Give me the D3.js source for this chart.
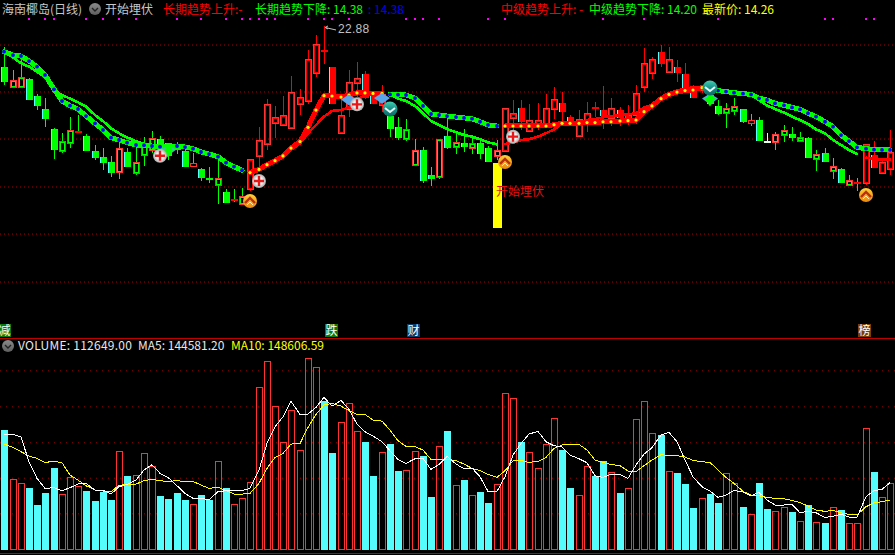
<!DOCTYPE html>
<html><head><meta charset="utf-8">
<script src="https://cdn.jsdelivr.net/npm/d3@7/dist/d3.min.js"></script>
<style>
html,body{margin:0;padding:0;background:#000;overflow:hidden}
svg{display:block}
text{font-family:"Liberation Sans","Noto Sans CJK SC",sans-serif;font-size:12px}
.cjk{font-family:"Noto Sans CJK SC","Liberation Sans",sans-serif}
</style></head><body><svg id="c" width="895" height="555"></svg>
<script>
// ---- price data ----
const highs=[21.42,19.87,20.89,19.30,18.23,17.93,15.88,15.54,16.63,16.79,15.47,14.74,14.51,13.99,15.19,14.51,14.62,15.26,15.70,15.35,14.85,14.92,14.74,14.17,13.14,13.23,13.71,11.71,11.73,11.77,13.76,15.97,17.89,17.41,18.09,19.46,18.55,21.24,22.26,22.88,20.10,18.09,19.87,20.42,19.80,18.27,18.84,17.59,16.68,16.52,15.15,14.60,13.23,15.15,16.63,15.54,15.81,15.19,15.08,14.69,15.08,17.25,17.82,17.82,17.52,17.59,18.23,18.68,18.36,16.77,17.13,17.68,17.68,18.77,17.93,17.31,17.47,18.84,21.35,20.78,21.58,21.47,20.55,20.33,18.84,18.84,18.68,17.82,17.59,17.93,17.22,16.84,16.63,15.54,15.65,16.08,15.97,15.65,15.26,14.40,14.51,13.85,13.14,12.69,12.48,14.78,15.01,13.71,15.76];
const bodyTops=[20.05,19.19,19.37,19.25,18.09,17.20,15.83,14.99,15.74,15.70,15.35,14.33,13.92,13.58,14.51,14.26,13.55,14.85,15.19,15.15,14.85,14.51,14.35,13.49,13.10,12.48,12.46,11.52,11.02,11.23,13.76,15.06,17.52,16.63,16.77,18.34,18.00,20.60,21.62,21.21,20.05,16.79,19.03,19.30,19.60,18.23,18.23,16.72,15.97,15.81,14.37,14.40,12.69,15.13,15.35,14.92,14.85,14.85,14.85,14.51,14.37,17.25,16.91,17.27,16.43,16.43,17.25,17.86,17.61,16.63,16.52,16.91,17.31,17.13,17.25,17.13,16.79,18.27,20.33,20.60,21.10,20.60,20.05,19.60,18.68,18.77,18.16,17.41,17.25,17.38,17.18,16.45,16.45,14.99,15.47,15.74,15.47,15.26,15.22,14.10,14.19,13.28,13.07,12.32,12.19,14.78,14.06,13.55,14.28];
const bodyBottoms=[19.14,18.73,18.73,17.91,17.47,16.56,14.44,14.35,14.90,15.58,14.37,13.89,13.60,12.87,12.92,13.32,12.85,14.08,14.40,14.62,14.06,14.46,13.32,13.32,12.57,12.44,12.03,10.86,10.93,10.73,11.75,14.01,14.83,16.27,16.13,15.92,17.54,17.77,19.69,21.08,17.59,15.54,17.18,19.00,18.05,17.59,17.47,15.92,15.31,15.17,13.39,12.37,12.51,12.57,14.58,14.60,14.69,14.56,14.17,13.64,14.01,14.35,16.61,16.38,15.72,15.99,16.08,17.22,17.07,16.22,15.38,16.45,17.20,16.79,16.61,16.63,16.56,16.79,18.73,19.69,20.37,19.76,19.76,18.73,18.05,18.50,17.59,16.95,16.95,17.09,16.38,16.27,15.06,14.92,14.97,15.45,15.26,15.04,13.92,13.80,13.67,12.98,12.19,12.03,12.05,12.16,13.26,12.85,13.10];
const lows=[18.84,18.68,18.68,17.86,17.13,15.99,13.80,14.21,14.53,15.58,14.35,13.71,13.03,12.53,12.44,13.30,12.69,13.30,14.21,14.44,13.71,14.12,13.26,13.32,12.25,12.12,10.70,10.79,10.86,10.70,11.57,12.98,14.40,15.22,16.13,15.92,16.79,17.54,19.41,20.28,17.54,15.49,16.68,18.05,17.91,17.54,17.02,15.31,15.08,15.01,13.39,12.16,11.93,12.41,14.49,14.12,14.26,14.12,13.76,13.55,13.71,14.26,15.65,15.76,15.70,15.76,15.95,16.50,16.27,16.18,15.26,15.65,16.68,15.81,16.04,16.04,16.11,16.18,18.39,19.23,20.10,19.64,19.07,18.46,18.05,18.27,17.47,16.79,15.92,16.79,16.22,16.06,15.01,14.85,14.40,14.94,15.01,14.99,13.87,12.96,13.58,12.41,12.12,12.00,11.59,11.98,13.21,12.76,12.69];
const upDays=[0,1,1,0,0,0,0,1,1,1,0,0,0,0,1,0,1,1,1,0,0,0,0,1,0,0,1,0,1,1,1,1,1,1,1,1,1,1,1,0,0,1,1,1,0,0,1,0,0,1,1,0,0,1,0,1,0,1,0,0,1,1,1,0,1,1,1,1,0,0,1,1,0,0,1,0,1,1,1,1,0,1,0,0,0,1,0,0,1,1,0,1,0,0,1,1,0,1,0,1,0,1,0,1,1,1,0,1,1];
const thickLine=[21.12,20.89,20.83,20.48,20.10,19.53,18.55,17.75,17.43,17.20,16.72,16.22,15.77,15.24,15.08,14.90,14.74,14.72,14.67,14.62,14.62,14.67,14.60,14.49,14.26,14.12,13.94,13.53,13.26,13.01,12.85,13.07,13.39,13.67,13.99,14.53,14.97,15.95,17.13,18.11,18.09,18.02,18.16,18.30,18.30,18.27,18.27,18.20,18.18,18.16,17.95,17.41,16.86,16.79,16.72,16.65,16.59,16.54,16.33,16.11,16.04,16.04,16.04,16.04,16.04,16.04,16.04,16.13,16.22,16.22,16.22,16.27,16.27,16.33,16.33,16.38,16.40,16.45,17.02,17.41,17.91,18.20,18.36,18.46,18.50,18.66,18.68,18.46,18.39,18.32,18.25,18.20,17.93,17.82,17.59,17.45,17.31,17.18,16.91,16.68,16.33,15.99,15.42,15.01,14.58,14.49,14.42,14.40,14.40];
const thinLine=[21.12,20.74,20.33,20.10,19.76,19.37,18.50,18.16,17.91,17.66,17.36,16.79,16.38,15.88,15.54,15.26,14.99,14.81,14.72,14.62,14.62,14.67,14.60,14.49,14.26,14.12,13.94,13.53,13.26,12.96,12.85,13.14,13.37,13.62,13.94,14.40,14.85,15.54,16.11,16.68,17.07,17.13,17.31,17.82,18.16,18.20,18.25,18.20,17.91,17.75,17.41,16.91,16.38,16.11,15.83,15.61,15.42,15.31,15.13,14.92,14.78,14.81,14.90,15.08,15.13,15.31,15.54,15.81,16.18,16.27,16.22,16.45,16.52,16.63,16.72,16.79,16.84,16.91,17.31,17.47,17.93,18.23,18.46,18.59,18.68,18.73,18.68,18.46,18.39,18.32,18.25,18.16,17.82,17.44,17.20,16.95,16.68,16.45,16.18,15.81,15.54,15.08,14.74,14.40,14.12,13.87,13.80,13.74,13.74];
// bar ranges [first,last] of each trend phase
const candleRedZones=[[30,46],[61,85],[105,108]];
const thickGreenZones=[[0,29],[47,60],[86,108]];
const thickRedZones=[[30,46],[61,85]];
const thinGreenZones=[[0,29],[47,60],[86,104]];
const thinRedZones=[[30,46],[61,85],[105,108]];
// markers
const plusDays=[19,31,43,62], plusPrices=[14.0,12.28,17.52,15.31];
const goldDays=[30,61,105], goldPrices=[10.91,13.58,11.32];
const tealDays=[47,86], tealPrices=[17.20,18.64];
const diamondDays=[20,42,46,86], diamondPrices=[14.42,17.85,17.95,17.92];
const arrowDays=[20,86], arrowPrices=[14.42,17.92];
const signalDays=[3,5,6,10,12,14,16,21,24,27,29,30,31,32,33,37,39,40,42,49,50,51,53,59,61,73,78,87,100,101,105,106];
const yellowBarDay=60, yellowBarTop=13.51, yellowBarBottom=9.06;
const priceGrid=[21.61,18.40,15.18,11.90,8.68,5.40];
// ---- volume data, thousands ----
const volumes=[203.0,119.3,112.5,104.6,75.8,96.1,138.5,93.8,122.7,107.4,99.5,82.5,97.8,84.2,166.8,124.9,126.6,163.4,141.3,91.0,85.9,96.1,84.2,76.9,92.7,84.2,149.8,104.6,76.9,87.1,114.2,275.3,319.4,243.1,182.0,236.3,168.5,324.5,309.2,251.6,163.9,215.9,248.2,200.7,182.6,124.9,165.1,179.2,133.4,134.5,166.8,158.9,89.3,175.2,201.2,109.1,118.1,92.1,97.8,79.1,110.8,265.1,256.6,182.6,165.1,137.9,178.6,222.7,169.0,104.6,92.1,141.3,124.9,150.4,131.1,96.1,104.0,221.0,251.6,197.3,194.5,132.8,130.0,111.4,70.7,87.1,94.4,79.1,129.5,112.5,72.4,59.9,113.1,69.0,65.0,71.8,63.9,48.1,75.8,46.4,45.2,71.8,67.3,44.7,44.7,205.8,131.7,88.8,112.649];
const ma5=[195.6,195.6,191.1,149.2,121.0,104.0,105.1,100.1,105.1,111.4,112.5,101.2,101.2,94.4,106.8,110.8,118.1,135.1,144.2,129.5,122.7,108.5,95.5,87.1,87.1,84.8,98.4,100.1,100.6,100.6,104.0,135.1,180.3,208.6,225.6,251.6,229.5,230.1,241.4,258.3,243.6,253.3,238.0,213.1,200.1,192.8,183.2,167.9,153.2,146.4,154.3,154.9,136.2,144.7,158.3,145.3,137.4,138.5,123.8,98.9,98.9,123.8,160.5,180.3,196.2,200.7,183.2,176.4,174.7,160.5,154.3,147.5,125.5,122.7,127.8,127.2,121.0,143.6,162.2,173.0,194.5,199.0,183.2,152.1,123.8,106.8,99.5,88.8,92.7,100.6,97.8,91.6,97.2,84.2,75.8,75.8,76.9,62.7,65.0,62.7,54.8,56.5,60.5,55.4,54.8,89.9,100.1,102.3,113.6];
const ma10=[179.2,173.5,166.2,158.9,154.9,148.1,149.8,147.5,126.6,118.1,108.5,101.2,99.5,98.4,109.1,110.8,111.4,117.0,119.3,117.0,115.9,117.0,115.9,115.9,109.7,104.0,105.7,100.6,94.4,94.4,95.5,112.5,137.9,156.6,163.4,179.2,180.3,207.5,229.5,245.3,248.2,243.6,235.7,229.5,229.5,219.9,218.2,202.9,184.9,175.2,174.7,169.0,153.2,152.1,153.8,150.9,145.3,137.9,134.5,127.8,122.7,134.0,150.9,151.5,148.1,149.8,156.6,171.9,177.5,179.2,178.6,169.0,152.1,148.1,144.7,142.5,133.4,132.3,142.5,152.1,161.1,160.0,159.4,157.2,151.5,149.2,148.1,135.1,122.7,112.5,98.9,92.7,91.6,88.8,87.1,86.5,83.7,79.7,74.1,67.3,65.0,66.7,62.7,59.9,58.8,72.9,79.7,81.4,84.2];
const volumeGrid=[304.3,243.2,182.2,122.1,61.7];
// ---- text ----
const titleName="海南椰岛(日线)", formulaName="开始埋伏";
const headerTexts=["长期趋势上升:-","长期趋势下降: 14.38",": 14.38","中级趋势上升: -","中级趋势下降: 14.20","最新价: 14.26"];
const volumeTexts=["VOLUME: 112649.00","MA5: 144581.20","MA10: 148606.59"];
const tagLabels=["减","跌","财","榜"], tagDays=[0,40,50,105];

const RED="#ff0000",RED2="#ff3232",GREEN="#00ff00",CYAN="#54fcfc";
const svg=d3.select("#c");
svg.append("rect").attr("width",895).attr("height",555).attr("fill","#000");
const defs=svg.append("defs");
function grad(id,stops,r){const g=r?defs.append("radialGradient").attr("id",id):defs.append("linearGradient").attr("id",id).attr("x2",0).attr("y2",1);
 stops.forEach((c,i)=>g.append("stop").attr("offset",i/(stops.length-1)).attr("stop-color",c));}
grad("gPlus",["#ffffff","#f4f4f4","#a8a8a8"],true);
grad("gGold",["#ffd23c","#f8a820","#e88a10"]);
grad("gTeal",["#40d0b0","#189088","#0c6a68"]);
grad("gGray",["#8a8a8a","#5e5e5e"]);

const xScale=d3.scaleLinear().domain([0,108]).range([4.33,890.3]);
const cx=i=>Math.round(xScale(i));
const yP=d3.scaleLinear().domain([24.657,14.26]).range([0,152]);
const yV=d3.scaleLinear().domain([0,352]).range([549.7,342.2]);
const days=d3.range(highs.length);
const inZones=(i,z)=>z.some(([a,b])=>i>=a&&i<=b);

// grid via axes
const gridG=svg.append("g");
function grid(scale,vals,dash,color){
 const g=gridG.append("g").call(d3.axisRight(scale).tickValues(vals).tickSize(895).tickFormat(""));
 g.select(".domain").remove();
 g.selectAll("line").attr("stroke",color).attr("stroke-dasharray",dash);
}
grid(yP,priceGrid,"1 3","#b00000");
grid(yV,volumeGrid,"1 5","#a00000");

// panel rules
gridG.append("line").attr("x1",0).attr("x2",895).attr("y1",338.5).attr("y2",338.5).attr("stroke","#c00000");
gridG.append("line").attr("x1",0).attr("x2",895).attr("y1",553.5).attr("y2",553.5).attr("stroke","#c00000");

// candles
const cG=svg.append("g").attr("shape-rendering","crispEdges");
days.forEach(i=>{
 const red=inZones(i,candleRedZones), up=upDays[i]===1;
 const x=cx(i), t=Math.round(yP(bodyTops[i])), b=Math.max(t+1,Math.round(yP(bodyBottoms[i])));
 const h=Math.round(yP(highs[i])), l=Math.round(yP(lows[i]));
 const wick=red?RED:GREEN;
 cG.append("rect").attr("x",x).attr("y",h).attr("width",1).attr("height",Math.max(0,t-h)).attr("fill",wick);
 cG.append("rect").attr("x",x).attr("y",b).attr("width",1).attr("height",Math.max(0,l-b)).attr("fill",wick);
 if(b-t<=2){
  cG.append("rect").attr("x",x-3).attr("y",t).attr("width",7).attr("height",2).attr("fill",i===93?"#e0ffe0":(red||up?RED:GREEN));
  if(i===21||i===25||i===93) cG.append("rect").attr("x",x).attr("y",h).attr("width",1).attr("height",l-h).attr("fill",i===93?"#e0ffe0":GREEN);
  return;
 }
 if(up){
  cG.append("rect").attr("x",x-3+.5).attr("y",t+.5).attr("width",6).attr("height",b-t).attr("fill","none").attr("stroke",RED2);
  if(red) cG.append("rect").attr("x",x-2+.5).attr("y",t+1.5).attr("width",4).attr("height",Math.max(0,b-t-2)).attr("fill","none").attr("stroke",RED);
  else if(b-t>3) cG.append("rect").attr("x",x-2+.5).attr("y",t+1.5).attr("width",4).attr("height",b-t-2).attr("fill","none").attr("stroke",GREEN);
 }else{
  cG.append("rect").attr("x",x-3).attr("y",t).attr("width",7).attr("height",b-t+1).attr("fill",CYAN);
  cG.append("rect").attr("x",x-2).attr("y",t).attr("width",6).attr("height",b-t+1).attr("fill",red?RED:GREEN);
 }
});

// trend lines
const lineP=vals=>d3.line().x(i=>cx(i)).y(i=>yP(vals[i]));
const lG=svg.append("g").attr("fill","none").attr("stroke-linejoin","round").attr("stroke-linecap","round").attr("shape-rendering","crispEdges");
function segs(vals,zones,color,w){zones.forEach(([a,b])=>lG.append("path").attr("d",lineP(vals)(d3.range(a,b+1))).attr("stroke",color).attr("stroke-width",w));}
segs(thinLine,thinGreenZones,GREEN,2.6);
segs(thinLine,thinRedZones,RED,2.6);
segs(thickLine,thickGreenZones,GREEN,5);
segs(thickLine,thickRedZones,RED,5);
const dG=svg.append("g");
function dots(zones,color,r){zones.forEach(([a,b])=>d3.range(a,b+1).forEach(i=>dG.append("circle").attr("cx",cx(i)).attr("cy",yP(thickLine[i])).attr("r",r).attr("fill",color)));}
dots(thickGreenZones,"#0000ff",1.9);
dots(thickRedZones,"#ffff00",1.6);

// yellow bar
svg.append("rect").attr("x",cx(yellowBarDay)-4).attr("width",9).attr("y",yP(yellowBarTop)).attr("height",yP(yellowBarBottom)-yP(yellowBarTop)).attr("fill","#ffff00").attr("shape-rendering","crispEdges");
svg.append("text").attr("class","cjk").attr("x",496).attr("y",196).attr("fill","#e81010").text(formulaName);

// markers
const mG=svg.append("g");
diamondDays.forEach((d,k)=>{const x=cx(d),y=yP(diamondPrices[k]);
 mG.append("path").attr("d",`M${x-8},${y}L${x},${y-5}L${x+8},${y}L${x},${y+6}Z`).attr("fill","#5aa6ea");
});
arrowDays.forEach((d,k)=>{const x=cx(d),y=yP(arrowPrices[k]);
 mG.append("path").attr("d",`M${x-3},${y-6}h6v5h3L${x},${y+8}L${x-3-3},${y-1}h3Z`).attr("fill",GREEN);
});
plusDays.forEach((d,k)=>{const x=cx(d),y=yP(plusPrices[k]);
 mG.append("circle").attr("cx",x).attr("cy",y).attr("r",7).attr("fill","url(#gPlus)");
 mG.append("path").attr("d",`M${x-5},${y}H${x+5}M${x},${y-5}V${y+5}`).attr("stroke","#e81818").attr("stroke-width",2.4);
});
goldDays.forEach((d,k)=>{const x=cx(d),y=yP(goldPrices[k]);
 mG.append("circle").attr("cx",x).attr("cy",y).attr("r",7).attr("fill","url(#gGold)");
 mG.append("path").attr("d",`M${x-5},${y+2}L${x},${y-3}L${x+5},${y+2}`).attr("fill","none").attr("stroke","#b83010").attr("stroke-width",2.4);
 mG.append("path").attr("d",`M${x-3},${y+4}L${x},${y+1}L${x+3},${y+4}`).attr("fill","none").attr("stroke","#fff0c0").attr("stroke-width",1);
});
tealDays.forEach((d,k)=>{const x=cx(d),y=yP(tealPrices[k]);
 mG.append("circle").attr("cx",x).attr("cy",y).attr("r",7.5).attr("fill","url(#gTeal)");
 mG.append("path").attr("d",`M${x-5},${y-1}L${x},${y+3}L${x+5},${y-1}`).attr("fill","none").attr("stroke","#e8fff8").attr("stroke-width",2);
});
signalDays.forEach(d=>svg.append("rect").attr("x",cx(d)-1).attr("y",18).attr("width",2).attr("height",2).attr("fill","#ff00ff"));

// high label
const hx=cx(39);
svg.append("path").attr("d",`M${hx+4},${yP(22.88)+3}l-3,-1.5l3,-1.5M${hx+1},${yP(22.88)+1.5}L${hx+12},${yP(22.88)+4}`).attr("fill","none").attr("stroke","#c0c0c0");
svg.append("text").attr("x",338).attr("y",33).attr("fill","#c0c0c0").attr("letter-spacing",".3").text("22.88");

// header
function gear(x,y){
 svg.append("circle").attr("cx",x).attr("cy",y).attr("r",6).attr("fill","url(#gGray)");
 svg.append("path").attr("d",`M${x-3},${y-1}L${x},${y+2}L${x+3},${y-1}`).attr("fill","none").attr("stroke","#222").attr("stroke-width",1.4);
}
const T=(s,x,y,c)=>svg.append("text").attr("class","cjk").attr("x",x).attr("y",y).attr("fill",c).text(s);
T(titleName,2,14,"#c8c8c8"); gear(95,9); T(formulaName,105,14,"#c8c8c8");
T(headerTexts[0],163,14,RED);
T(headerTexts[1],255,14,GREEN);
T(headerTexts[2],368,14,"#0000ff");
T(headerTexts[3],501,14,RED);
T(headerTexts[4],589,14,GREEN);
T(headerTexts[5],702,14,"#ffff00");

// volume bars
const vG=svg.append("g").attr("shape-rendering","crispEdges");
days.forEach(i=>{
 const x=cx(i), t=Math.round(yV(volumes[i])), b=550;
 if(upDays[i]) vG.append("rect").attr("x",x-3+.5).attr("y",t+.5).attr("width",6).attr("height",b-t-1).attr("fill","none").attr("stroke",RED2);
 else vG.append("rect").attr("x",x-3).attr("y",t).attr("width",7).attr("height",b-t).attr("fill",CYAN);
});
const lineV=d3.line().x((d,i)=>cx(i)).y(d=>yV(d));
svg.append("path").attr("d",lineV(ma10)).attr("fill","none").attr("stroke","#ffff00").attr("shape-rendering","crispEdges");
svg.append("path").attr("d",lineV(ma5)).attr("fill","none").attr("stroke","#ffffff").attr("shape-rendering","crispEdges");

gear(8,346);
T(volumeTexts[0],18,350,"#e8e8e8").attr("letter-spacing",".25");
T(volumeTexts[1],138,350,"#e8e8e8");
T(volumeTexts[2],231,350,"#ffff00");

// tags
const tagColors=["#0a7a0a","#0a7a0a","#0c3c6c","#7a3c08"];
const tagX=[-2,325,407,858];
tagLabels.forEach((s,k)=>{
 svg.append("rect").attr("x",tagX[k]).attr("y",324).attr("width",13).attr("height",13).attr("fill",tagColors[k]);
 svg.append("text").attr("class","cjk").attr("x",tagX[k]+.5).attr("y",335).attr("fill","#fff").text(s);
});
</script></body></html>
